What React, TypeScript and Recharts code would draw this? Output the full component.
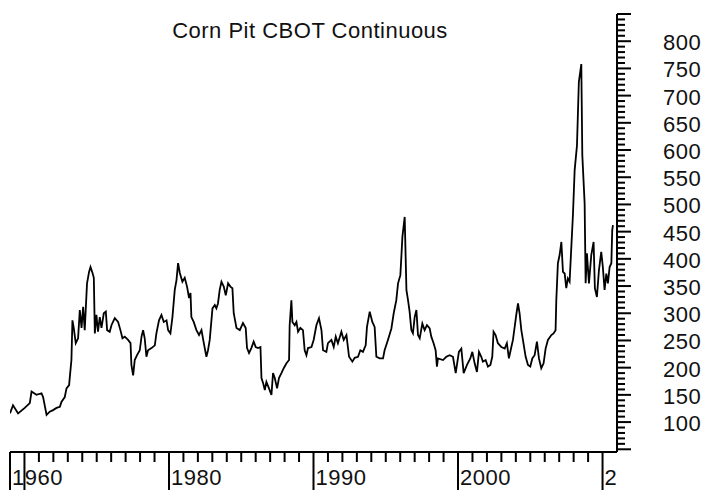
import React from "react";
import { LineChart, Line, XAxis, YAxis } from "recharts";

// ---- Data ----
const years1970s = [
  1969.0, 1969.21, 1969.56, 1970.02, 1970.37, 1970.49, 1970.83, 1971.18, 1971.29, 1971.53,
  1971.75, 1971.98, 1972.22, 1972.45, 1972.56, 1972.79, 1972.91, 1973.09, 1973.14, 1973.25,
  1973.32, 1973.41, 1973.55, 1973.71, 1973.83, 1973.95, 1974.06, 1974.17, 1974.33, 1974.47,
  1974.57, 1974.71, 1974.8, 1974.87, 1974.98, 1975.09, 1975.21, 1975.33, 1975.49, 1975.63,
  1975.72, 1975.9, 1976.02, 1976.25, 1976.48, 1976.64, 1976.78, 1976.94, 1977.17, 1977.34,
  1977.4, 1977.52, 1977.63, 1977.79, 1977.98, 1978.1, 1978.21, 1978.32, 1978.44, 1978.55,
  1978.79, 1979.02, 1979.13, 1979.31, 1979.48, 1979.64, 1979.83, 1979.94,
];
const prices1970s = [
  116, 131, 116, 126, 135, 156, 150, 153, 146, 113,
  119, 122, 126, 128, 137, 146, 162, 168, 183, 214,
  287, 273, 245, 254, 306, 273, 312, 269, 355, 376,
  385, 374, 365, 263, 297, 266, 293, 273, 300, 303,
  269, 266, 278, 291, 284, 269, 254, 257, 251, 245,
  205, 186, 214, 223, 232, 257, 269, 254, 220, 232,
  236, 241, 263, 287, 297, 284, 287, 269,
];

const years1980s = [
  1980.1, 1980.24, 1980.4, 1980.52, 1980.63, 1980.75, 1980.93, 1981.09, 1981.25, 1981.39,
  1981.49, 1981.55, 1981.71, 1981.9, 1982.08, 1982.25, 1982.41, 1982.59, 1982.7, 1982.82,
  1983.01, 1983.17, 1983.28, 1983.39, 1983.51, 1983.63, 1983.79, 1983.93, 1984.09, 1984.25,
  1984.39, 1984.48, 1984.67, 1984.9, 1985.12, 1985.31, 1985.4, 1985.54, 1985.7, 1985.86,
  1986.0, 1986.16, 1986.33, 1986.4, 1986.51, 1986.63, 1986.74, 1986.92, 1987.09, 1987.2,
  1987.32, 1987.48, 1987.61, 1987.78, 1987.94, 1988.13, 1988.31, 1988.35, 1988.47, 1988.54,
  1988.7, 1988.82, 1988.93, 1989.09, 1989.27, 1989.39, 1989.51, 1989.62, 1989.86,
];
const prices1980s = [
  263, 293, 343, 361, 392, 374, 358, 365, 349, 328,
  337, 293, 284, 269, 260, 269, 245, 220, 232, 251,
  309, 315, 309, 318, 343, 358, 349, 333, 355, 349,
  346, 300, 273, 269, 282, 273, 236, 227, 236, 248,
  238, 236, 238, 181, 172, 159, 174, 162, 150, 190,
  181, 162, 181, 190, 199, 208, 214, 278, 324, 284,
  278, 284, 266, 273, 269, 232, 223, 236, 238,
];

const years1990s = [
  1990.01, 1990.2, 1990.38, 1990.55, 1990.66, 1990.89, 1991.0, 1991.24, 1991.4, 1991.54,
  1991.69, 1991.93, 1992.09, 1992.28, 1992.46, 1992.69, 1992.85, 1993.08, 1993.24, 1993.42,
  1993.61, 1993.7, 1993.89, 1994.07, 1994.23, 1994.35, 1994.58, 1994.81, 1994.92, 1995.15,
  1995.39, 1995.55, 1995.73, 1995.85, 1996.01, 1996.08, 1996.15, 1996.31, 1996.43, 1996.54,
  1996.65, 1996.77, 1996.88, 1997.0, 1997.12, 1997.23, 1997.35, 1997.53, 1997.69, 1997.85,
  1998.04, 1998.15, 1998.31, 1998.45, 1998.54, 1998.61, 1998.96, 1999.19, 1999.42, 1999.65,
  1999.84,
];
const prices1990s = [
  251, 278, 291, 269, 232, 229, 245, 251, 238, 257,
  245, 266, 251, 260, 220, 211, 218, 220, 232, 229,
  241, 275, 303, 284, 275, 220, 217, 217, 232, 251,
  272, 300, 324, 355, 370, 404, 440, 477, 343, 324,
  303, 269, 263, 293, 306, 260, 254, 281, 269, 278,
  272, 257, 245, 232, 202, 217, 214, 220, 223, 220,
  190,
];

const years2000s = [
  2000.06, 2000.23, 2000.39, 2000.62, 2000.85, 2000.99, 2001.15, 2001.31, 2001.45, 2001.61,
  2001.72, 2001.91, 2002.07, 2002.24, 2002.37, 2002.46, 2002.6, 2002.76, 2003.0, 2003.23,
  2003.38, 2003.52, 2003.69, 2003.8, 2003.92, 2004.03, 2004.15, 2004.26, 2004.38, 2004.49,
  2004.68, 2004.84, 2005.0, 2005.14, 2005.3, 2005.46, 2005.6, 2005.76, 2005.92, 2006.06,
  2006.22, 2006.46, 2006.61, 2006.75, 2006.8, 2006.91, 2007.03, 2007.15, 2007.26, 2007.38,
  2007.49, 2007.6, 2007.72, 2007.84, 2007.95, 2008.07, 2008.23, 2008.36, 2008.53, 2008.6,
  2008.76, 2008.83, 2008.92, 2009.06, 2009.22, 2009.38, 2009.47, 2009.61, 2009.75, 2009.91,
  2010.02, 2010.14, 2010.26, 2010.37, 2010.49, 2010.61, 2010.67, 2010.72,
];
const prices2000s = [
  229, 235, 190, 205, 217, 229, 208, 192, 229, 220,
  211, 214, 202, 205, 220, 266, 260, 245, 238, 235,
  245, 217, 238, 251, 275, 297, 318, 300, 269, 251,
  220, 205, 202, 217, 223, 248, 217, 199, 208, 235,
  251, 260, 263, 269, 324, 392, 407, 431, 376, 373,
  346, 364, 358, 422, 480, 563, 608, 725, 758, 591,
  502, 355, 410, 355, 407, 431, 346, 330, 379, 413,
  385, 343, 373, 355, 385, 392, 453, 462,
];

// ---- Axis ticks and labels ----
const xMajorTicks = [1969, 1970, 1980, 1990, 2000, 2010];
const xMajorLabels = ["1960", "", "1980", "1990", "2000", "2"];
const yMajorLabels = ["100", "150", "200", "250", "300", "350", "400", "450", "500", "550", "600", "650", "700", "750", "800"];

const xTicks: number[] = [];
for (let yr = 1969; yr <= 2010; yr++) xTicks.push(yr);
const yTicks: number[] = [];
for (let v = 50; v <= 850; v += 10) yTicks.push(v);

const title = "Corn Pit CBOT Continuous";

const allYears = [...years1970s, ...years1980s, ...years1990s, ...years2000s];
const allPrices = [...prices1970s, ...prices1980s, ...prices1990s, ...prices2000s];
const data = allYears.map((year, i) => ({ year, price: allPrices[i] }));

const FONT = "'Liberation Sans', Arial, Helvetica, sans-serif";

const XTick = (props: any) => {
  const { x, y, payload } = props;
  const v = payload.value;
  const idx = xMajorTicks.indexOf(v);
  const major = idx >= 0;
  const label = major ? xMajorLabels[idx] : "";
  return (
    <g>
      <line x1={x} y1={y} x2={x} y2={y + (major ? 38 : 10)} stroke="#000" strokeWidth={2} />
      {label ? (
        <text x={x + 2} y={y + 33} fontSize={22} letterSpacing={0.5} fontFamily={FONT} fill="#111">
          {label}
        </text>
      ) : null}
    </g>
  );
};

const YTick = (props: any) => {
  const { x, y, payload } = props;
  const v = payload.value;
  const major = v % 50 === 0;
  const labelIdx = (v - 100) / 50;
  const label = major && labelIdx >= 0 && labelIdx < yMajorLabels.length ? yMajorLabels[labelIdx] : "";
  return (
    <g>
      <line x1={x} y1={y} x2={x + (major ? 14 : 8)} y2={y} stroke="#000" strokeWidth={2} />
      {label ? (
        <text x={x + 46} y={y + 9} fontSize={22} letterSpacing={0.5} fontFamily={FONT} fill="#111">
          {label}
        </text>
      ) : null}
    </g>
  );
};

export default function App() {
  return (
    <div style={{ position: "relative", width: 704, height: 490, background: "#fff" }}>
      <style>{"body{margin:0;background:#fff;}"}</style>
      <LineChart
        width={704}
        height={490}
        data={data}
        margin={{ top: 14, right: 0, bottom: 0, left: 10 }}
      >
        <XAxis
          dataKey="year"
          type="number"
          domain={[1969, 2011]}
          ticks={xTicks}
          interval={0}
          height={38}
          tickSize={0}
          tickMargin={0}
          tickLine={false}
          tick={<XTick />}
          axisLine={{ stroke: "#000", strokeWidth: 2 }}
          allowDataOverflow
        />
        <YAxis
          orientation="right"
          type="number"
          domain={[45, 850]}
          ticks={yTicks}
          interval={0}
          width={87}
          tickSize={0}
          tickMargin={0}
          tickLine={false}
          tick={<YTick />}
          axisLine={{ stroke: "#000", strokeWidth: 2 }}
          allowDataOverflow
        />
        <Line
          type="linear"
          dataKey="price"
          stroke="#000"
          strokeWidth={1.8}
          dot={false}
          activeDot={false}
          isAnimationActive={false}
        />
      </LineChart>
      <svg
        width={704}
        height={60}
        style={{ position: "absolute", left: 0, top: 0, pointerEvents: "none" }}
      >
        <text x={310} y={38} textAnchor="middle" fontSize={22} letterSpacing={0.5} fontFamily={FONT} fill="#111">
          {title}
        </text>
      </svg>
    </div>
  );
}
